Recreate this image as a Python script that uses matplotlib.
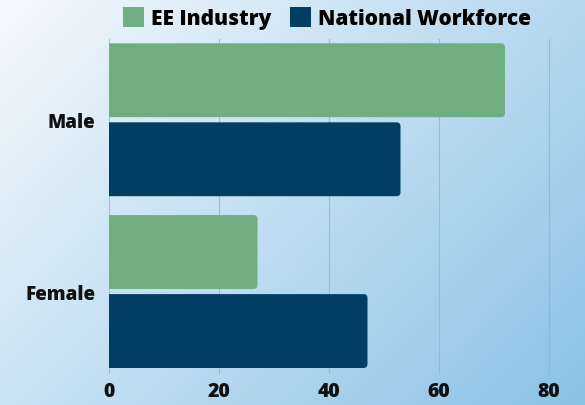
import matplotlib
matplotlib.use("Agg")
import matplotlib.pyplot as plt
import numpy as np
from matplotlib.patches import FancyBboxPatch, Patch

categories = ["Male", "Female"]
series_names = ["EE Industry", "National Workforce"]
ee_industry = [72, 27]
national_workforce = [53, 47]
x_ticks = [0, 20, 40, 60, 80]

colors = ["#70ad80", "#003f63"]

plt.rcParams['font.family'] = ['Open Sans', 'DejaVu Sans']

fig = plt.figure(figsize=(5.85, 4.06), dpi=100)

# background gradient
bg = fig.add_axes([0, 0, 1, 1], zorder=-10)
h, w = 200, 300
yy, xx = np.mgrid[0:1:h*1j, 0:1:w*1j]
t = np.clip(0.6 * xx + 0.4 * yy, 0, 1)
c0 = np.array([245, 249, 253]) / 255
c1 = np.array([138, 194, 229]) / 255
img = c0[None, None, :] * (1 - t[..., None]) + c1[None, None, :] * t[..., None]
bg.imshow(img, aspect='auto', extent=[0, 1, 0, 1], origin='upper')
bg.axis('off')

ax = fig.add_axes([109/585, 31/406, 476/585, 335/406])
ax.patch.set_alpha(0)

y = np.arange(len(categories))
bar_h = 0.43
off = 0.23
xmax = 476 / 5.5
ax.set_xlim(0, xmax)
ax.set_ylim(1.48, -0.47)

px_x = 476 / xmax
px_y = 335 / (1.48 + 0.47)
r_px = 4
for vals, dy, col in [(ee_industry, -off, colors[0]), (national_workforce, off, colors[1])]:
    for yi, v in zip(y, vals):
        p = FancyBboxPatch((-2, yi + dy - bar_h / 2), v + 2, bar_h,
                           boxstyle=f"round,pad=0,rounding_size={r_px/px_x}",
                           mutation_aspect=px_x / px_y,
                           facecolor=col, edgecolor='none', zorder=3, clip_on=True)
        ax.add_patch(p)

ax.set_yticks(y)
ax.set_yticklabels(categories, fontsize=13.5, fontweight='heavy', color='#111111')
ax.set_xticks(x_ticks)
ax.set_xticklabels([str(v) for v in x_ticks], fontsize=14, fontweight='heavy', color='#111111')
ax.tick_params(length=0)
ax.tick_params(axis='y', pad=10)
ax.tick_params(axis='x', pad=5)
for s in ax.spines.values():
    s.set_visible(False)
ax.grid(axis='x', color='#93b4c9', linewidth=0.8, alpha=0.8, zorder=0)
ax.set_axisbelow(True)

handles = [Patch(facecolor=colors[0], edgecolor='none'), Patch(facecolor=colors[1], edgecolor='none')]
fig.legend(handles, series_names, loc='center', bbox_to_anchor=(327/585, 1 - 19/406),
           ncol=2, frameon=False, prop={'size': 15, 'weight': 'heavy'},
           handlelength=1.0, handleheight=1.1, handletextpad=0.35, columnspacing=0.9)

fig.savefig("out.png", dpi=100)
